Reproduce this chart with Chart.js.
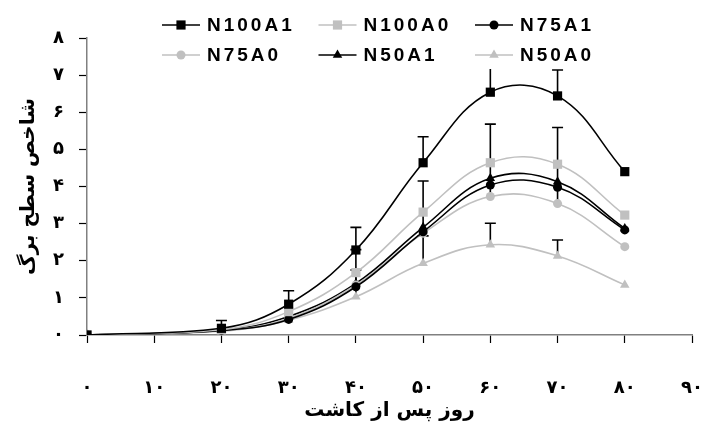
<!DOCTYPE html>
<html>
<head>
<meta charset="utf-8">
<script src="https://cdn.jsdelivr.net/npm/chart.js@4.4.1/dist/chart.umd.min.js"></script>
<style>
  html, body { margin: 0; padding: 0; background: #fff; }
  #wrap { width: 704px; height: 432px; }
</style>
</head>
<body>
<div id="wrap"><canvas id="lai"></canvas></div>
<script>
// days after planting
const days = [0, 20, 30, 40, 50, 60, 70, 80]

// leaf area index per treatment
const N100A1 = [0, 0.18, 0.83, 2.29, 4.64, 6.54, 6.44, 4.40]
const N100A0 = [0, 0.14, 0.63, 1.68, 3.31, 4.64, 4.60, 3.23]
const N75A1 = [0, 0.12, 0.42, 1.30, 2.78, 4.04, 3.98, 2.83]
const N75A0 = [0, 0.12, 0.45, 1.35, 2.74, 3.73, 3.54, 2.38]
const N50A1 = [0, 0.13, 0.50, 1.39, 2.90, 4.22, 4.13, 2.87]
const N50A0 = [0, 0.10, 0.40, 1.03, 1.93, 2.43, 2.13, 1.35]

// upper error bars (null = none)
const errN100A1 = [null, 0.21, 0.36, 0.61, 0.70, 0.76, 0.70, null]
const errN75A0 = [null, null, null, 0.95, 1.41, 1.95, 2.05, null]
const errN50A0 = [null, null, null, 0.72, 0.74, 0.58, 0.43, null]

const xTicks = [0, 10, 20, 30, 40, 50, 60, 70, 80, 90]
const yTicks = [0, 1, 2, 3, 4, 5, 6, 7, 8]

const black = '#000000'
const gray = '#c0c0c0'
const faDigits = '۰۱۲۳۴۵۶۷۸۹'
const fa = n => String(n).replace(/\d/g, d => faDigits[d])

const series = (label, values, color, pointStyle, pointRadius, errors) => ({
    label,
    data: days.map((d, i) => ({ x: d, y: values[i] })),
    errors,
    borderColor: color,
    backgroundColor: color,
    borderWidth: 1.6,
    pointStyle,
    pointRadius,
    pointHoverRadius: pointRadius,
    pointBorderWidth: 0,
    tension: 0.4
})

// simple "plus" error bars with a cap
const errorBars = {
    id: 'errorBars',
    beforeDatasetsDraw(chart) {
        const { ctx, scales: { x, y } } = chart
        ctx.save()
        ctx.strokeStyle = black
        ctx.lineWidth = 1.6
        chart.data.datasets.forEach(ds => {
            if (!ds.errors) return
            ds.errors.forEach((e, i) => {
                if (e == null) return
                const px = x.getPixelForValue(ds.data[i].x)
                const y0 = y.getPixelForValue(ds.data[i].y)
                const y1 = y.getPixelForValue(ds.data[i].y + e)
                ctx.beginPath()
                ctx.moveTo(px, y0)
                ctx.lineTo(px, y1)
                ctx.moveTo(px - 5.5, y1)
                ctx.lineTo(px + 5.5, y1)
                ctx.stroke()
            })
        })
        ctx.restore()
    }
}

// legend box sitting over the top of the plot, 3 columns x 2 rows
const legendBox = {
    id: 'legendBox',
    afterDraw(chart) {
        const { ctx } = chart
        ctx.save()
        ctx.fillStyle = '#fff'
        ctx.fillRect(152, 6, 452, 63)
        ctx.font = 'bold 19px "Liberation Sans", Arial, sans-serif'
        ctx.letterSpacing = '3px'
        ctx.textBaseline = 'middle'
        chart.data.datasets.forEach((ds, i) => {
            const lx = 162 + (i % 3) * 156.5
            const ly = 25 + Math.floor(i / 3) * 30
            ctx.strokeStyle = ds.borderColor
            ctx.lineWidth = 1.6
            ctx.beginPath()
            ctx.moveTo(lx, ly)
            ctx.lineTo(lx + 38, ly)
            ctx.stroke()
            ctx.fillStyle = ds.backgroundColor
            Chart.helpers.drawPoint(ctx, { pointStyle: ds.pointStyle, radius: ds.pointRadius, borderWidth: 0, rotation: 0 }, lx + 19, ly)
            ctx.fillStyle = black
            ctx.fillText(ds.label, lx + 45, ly + 1)
        })
        ctx.restore()
    }
}

const axisFont = { family: '"DejaVu Sans", sans-serif', size: 18, weight: 'bold' }
const titleFont = { family: '"DejaVu Sans", sans-serif', size: 20, weight: 'bold' }

const render = () => {
    new Chart(document.getElementById('lai'), {
        type: 'line',
        data: {
            datasets: [
                series('N100A1', N100A1, black, 'rect', 6.5, errN100A1),
                series('N100A0', N100A0, gray, 'rect', 6.5),
                series('N75A1', N75A1, black, 'circle', 4.5),
                series('N75A0', N75A0, gray, 'circle', 4.5, errN75A0),
                series('N50A1', N50A1, black, 'triangle', 5.5),
                series('N50A0', N50A0, gray, 'triangle', 5.5, errN50A0)
            ]
        },
        options: {
            responsive: true,
            maintainAspectRatio: false,
            animation: false,
            layout: { padding: { top: 38, right: 12, left: 10, bottom: 0 } },
            plugins: {
                legend: { display: false },
                tooltip: { enabled: false }
            },
            scales: {
                x: {
                    type: 'linear',
                    min: 0,
                    max: 90,
                    afterBuildTicks: axis => { axis.ticks = xTicks.map(v => ({ value: v })) },
                    afterFit: axis => {
                        axis.height = 97
                        axis.paddingLeft = 0
                        axis.paddingRight = 0
                    },
                    ticks: { callback: v => fa(v), color: black, font: axisFont, padding: 35, minRotation: 0, maxRotation: 0, autoSkip: false },
                    grid: { drawOnChartArea: false, tickLength: 8, tickColor: black, tickWidth: 1.2 },
                    border: { color: '#808080', width: 1.5 },
                    title: { display: true, text: 'روز پس از کاشت', color: black, font: titleFont, padding: { top: 0, bottom: 9 } }
                },
                y: {
                    min: 0,
                    max: 8,
                    afterBuildTicks: axis => { axis.ticks = yTicks.map(v => ({ value: v })) },
                    afterFit: axis => {
                        axis.width = 77
                        axis.paddingTop = 0
                        axis.paddingBottom = 0
                    },
                    ticks: { callback: v => fa(v), color: black, font: axisFont, padding: 15 },
                    grid: { drawOnChartArea: false, tickLength: 8, tickColor: black, tickWidth: 1.2 },
                    border: { color: '#808080', width: 1.5 },
                    title: { display: true, text: 'شاخص سطح برگ', color: black, font: titleFont, padding: { top: 7, bottom: 0 } }
                }
            }
        },
        plugins: [errorBars, legendBox]
    })
}

document.addEventListener('DOMContentLoaded', render)
</script>
</body>
</html>
